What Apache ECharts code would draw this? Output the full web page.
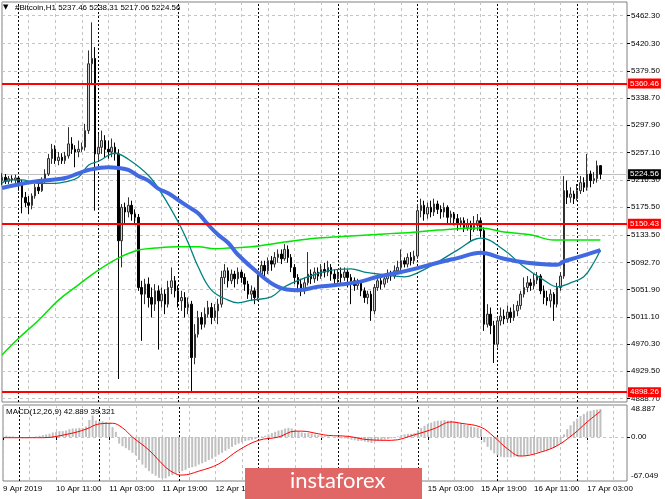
<!DOCTYPE html>
<html><head><meta charset="utf-8">
<script src="https://cdn.jsdelivr.net/npm/echarts@6/dist/echarts.min.js"></script>
<style>html,body{margin:0;padding:0;background:#fff}#c{width:665px;height:499px}</style>
</head><body><div id="c"></div>
<script>
// ---------- data ----------
const startTimeUTC = Date.UTC(2019, 3, 9, 19); // first visible H1 bar
const slotCount = 189;                         // bar slots across the chart
const monthNames = ['Jan','Feb','Mar','Apr','May','Jun','Jul','Aug','Sep','Oct','Nov','Dec'];
const titleText = '#Bitcoin,H1 5237.46 5238.31 5217.06 5224.56';
const macdTitle = 'MACD(12,26,9) 42.889 39.321';
// [open, close, low, high]
const candles = [
[5215,5220,5208,5226],[5220,5214,5210,5225],[5214,5218,5210,5222],[5218,5216,5212,5223],[5216,5219,5211,5224],
[5219,5212,5200,5222],[5212,5190,5166,5216],[5190,5182,5175,5198],[5182,5178,5165,5192],[5178,5192,5172,5196],
[5192,5205,5188,5210],[5205,5200,5195,5212],[5200,5215,5198,5220],[5215,5225,5210,5232],[5225,5248,5222,5255],
[5248,5262,5240,5270],[5262,5245,5240,5268],[5245,5250,5238,5258],[5250,5245,5240,5256],[5245,5252,5240,5258],
[5252,5270,5248,5295],[5270,5262,5255,5280],[5262,5258,5235,5268],[5258,5262,5250,5275],[5262,5265,5258,5272],
[5265,5290,5260,5300],[5290,5390,5285,5410],[5390,5398,5360,5452],[5398,5255,5170,5415],[5255,5265,5245,5285],
[5265,5275,5255,5290],[5275,5262,5250,5283],[5262,5258,5248,5275],[5258,5265,5250,5278],[5265,5255,5245,5272],
[5255,5125,4918,5262],[5125,5175,5085,5180],[5175,5168,5150,5182],[5168,5178,5160,5190],[5178,5165,5155,5185],
[5165,5160,5150,5172],[5160,5055,5050,5165],[5055,5045,4975,5065],[5045,5060,5030,5068],[5060,5040,5025,5070],
[5040,5030,5010,5055],[5030,5050,5020,5060],[5050,5035,4962,5058],[5035,5045,5025,5055],[5045,5030,5015,5052],
[5030,5055,5025,5065],[5055,5065,5045,5085],[5065,5050,5040,5072],[5050,5035,5025,5058],[5035,5040,5020,5050],
[5040,5025,5010,5048],[5025,5030,5015,5040],[5030,4950,4900,5035],[4950,4985,4940,5000],[4985,5010,4980,5020],
[5010,5000,4992,5018],[5000,5015,4995,5025],[5015,5025,5010,5035],[5025,5010,5000,5032],[5010,5020,5005,5030],
[5020,5030,5000,5038],[5030,5070,5025,5080],[5070,5080,5060,5090],[5080,5065,5055,5085],[5065,5075,5060,5082],
[5075,5068,5055,5080],[5068,5078,5060,5085],[5078,5070,5062,5082],[5070,5060,5050,5076],[5060,5045,5038,5065],
[5045,5050,5035,5058],[5050,5040,5030,5055],[5040,5075,5035,5080],[5075,5088,5070,5095],[5088,5080,5072,5095],
[5080,5095,5075,5100],[5095,5090,5080,5102],[5090,5100,5085,5108],[5100,5105,5092,5112],[5105,5098,5090,5112],
[5098,5112,5095,5120],[5112,5100,5092,5118],[5100,5085,5078,5105],[5085,5070,5060,5090],[5070,5060,5048,5075],
[5060,5050,5042,5068],[5050,5062,5045,5070],[5062,5075,5058,5108],[5075,5068,5060,5082],[5068,5078,5062,5085],
[5078,5072,5065,5085],[5072,5082,5068,5090],[5082,5078,5070,5092],[5078,5085,5072,5095],[5085,5075,5065,5090],
[5075,5068,5060,5082],[5068,5075,5062,5082],[5075,5070,5062,5085],[5070,5078,5065,5085],[5078,5070,5055,5082],
[5070,5065,5030,5075],[5065,5058,5050,5070],[5058,5062,5052,5068],[5062,5050,5042,5066],[5050,5040,5032,5055],
[5040,5045,5030,5050],[5045,5020,5005,5050],[5020,5055,5015,5060],[5055,5065,5050,5072],[5065,5060,5052,5070],
[5060,5068,5055,5075],[5068,5075,5062,5082],[5075,5072,5065,5080],[5072,5080,5068,5088],[5080,5085,5075,5095],
[5085,5095,5080,5112],[5095,5090,5085,5100],[5090,5100,5085,5106],[5100,5095,5088,5108],[5095,5102,5090,5110],
[5102,5170,5098,5180],[5170,5178,5160,5188],[5178,5165,5155,5185],[5165,5175,5158,5182],[5175,5168,5160,5185],
[5168,5180,5162,5188],[5180,5172,5165,5185],[5172,5168,5158,5178],[5168,5175,5160,5182],[5175,5160,5150,5178],
[5160,5165,5150,5170],[5165,5158,5148,5168],[5158,5150,5140,5165],[5150,5155,5145,5160],[5155,5145,5138,5160],
[5145,5150,5140,5158],[5150,5142,5125,5155],[5142,5148,5138,5162],[5148,5155,5140,5165],[5155,5140,5130,5160],
[5140,5000,4990,5145],[5000,5015,4995,5030],[5015,4998,4985,5025],[4998,4970,4942,5005],[4970,5005,4965,5012],
[5005,5012,4998,5025],[5012,5008,5000,5022],[5008,5018,5002,5028],[5018,5010,5002,5025],[5010,5020,5005,5030],
[5020,5028,5012,5035],[5028,5045,5022,5050],[5045,5055,5040,5070],[5055,5062,5048,5072],[5062,5058,5050,5068],
[5058,5066,5052,5075],[5066,5072,5060,5078],[5072,5050,5045,5075],[5050,5040,5030,5058],[5040,5035,5028,5050],
[5035,5045,5025,5052],[5045,5030,5005,5048],[5030,5055,5025,5062],[5055,5072,5050,5078],[5072,5200,5068,5222],
[5200,5190,5180,5215],[5190,5195,5182,5205],[5195,5188,5180,5200],[5188,5200,5185,5210],[5200,5212,5195,5222],
[5212,5205,5198,5220],[5205,5225,5200,5255],[5225,5215,5205,5230],[5215,5218,5210,5228],[5218,5237.46,5212,5245],
[5237.46,5224.56,5217.06,5238.31]
];
// moving averages read at bar indices: [barIndex, price]
const tealMA = [[0,5211],[2,5216],[6,5216],[9,5213],[11,5211],[16,5211],[19,5213],[23,5220],[26,5238],[29,5244],[34,5256],[38,5247],[44,5223],[48,5196],[53,5153],[56,5122],[59,5086],[63,5051],[68,5036],[71,5032],[75,5036],[81,5041],[85,5056],[91,5069],[98,5080],[105,5083],[109,5078],[115,5074],[121,5071],[125,5077],[131,5093],[137,5111],[144,5129],[151,5111],[157,5086],[163,5066],[167,5056],[171,5062],[175,5071],[178,5092],[180,5111]];
const blueMA = [[0,5204],[9,5213],[19,5219],[23,5226],[26,5231],[32,5235],[35,5234],[38,5231],[41,5222],[44,5215],[47,5203],[50,5196],[53,5186],[56,5176],[59,5166],[62,5149],[65,5134],[68,5122],[71,5104],[77,5077],[83,5056],[89,5051],[95,5056],[101,5059],[107,5063],[113,5071],[119,5077],[125,5084],[131,5092],[137,5099],[144,5107],[151,5098],[158,5092],[167,5089],[169,5094],[173,5100],[180,5111]];
const greenMA = [[0,4954],[5,4979],[11,5006],[17,5036],[23,5059],[29,5081],[35,5099],[41,5111],[46,5114],[53,5116],[59,5116],[64,5113],[68,5114],[75,5116],[85,5123],[95,5129],[105,5132],[115,5135],[125,5138],[131,5141],[144,5144],[151,5138],[159,5134],[166,5126],[171,5126],[180,5126]];
// MACD main (histogram), one per bar
const macdHist = [2,2,1,1,0,-1,-2,-2,-1,0,1,2, 3,4,5,7,8,9,9,10, 12,13,13,14,14,16, 26,33, 25,24,24,23,22, 15,8, -10,
 -14,-17,-20,-24,-28,-35, -42,-47,-52,-56,-59,-62,-63,-63,-60, -58,-56,-54,-52,-50,-47, -46,-45,-42,-40,-38,-35,-33,-30,
 -27,-24,-21,-18,-15,-12,-10,-8, -6,-5,-4,-3,-1,1,2, 4,6,8,10,11,13,14,13, 11,9,7,6,6,5,4,3, 2,2,1, 0,-1,-1,-2,-2,
 -3,-4,-5,-6,-6,-7,-8,-9, -7,-6,-5,-4,-3,-2,-1, 1,3,4,5,5,6, 10,14,17, 20,22,24,25,25, 26,25,25,24,
 22,21,19,18,16,15,14,12, -8, -15,-20,-25,-28,-30, -31,-31,-31,-30,-30,-29,-28,-27,
 -26,-25,-23,-22,-21,-20,-18,-17,-14,-10, 4, 12,18,24,28,32, 35,38,40,41,42,42.889];
// MACD signal read at bar indices
const macdSignal = [[0,-1],[12,-1],[20,5],[25,12],[29,20],[33,21],[36,14],[39,0],[44,-20],[49,-46],[52,-56],[54,-58],[59,-52],[65,-41],[71,-20],[77,-5],[83,0],[88,9],[90,9],[95,5],[98,2.5],[104,1],[110,-4],[117,-5],[124,3.5],[130,13],[135,23],[138,21],[144,15],[148,0],[152,-18],[156,-29],[162,-23],[167,-13],[172,5],[176,23],[180,39.321]];
const priceTicks = [5462.30,5420.30,5379.50,5338.70,5297.90,5257.10,5216.30,5175.50,5133.50,5092.70,5051.90,5011.10,4970.30,4929.50,4888.70];
const levelLines = [5360.46, 5150.43, 4898.26];
const lastPrice = 5224.56;
const macdTicks = [48.887, 0, -67.049];
const priceRange = [4883.5, 5482.5];
const macdRange = [-67.049, 48.887];

// ---------- build ----------
const FONT = 'Liberation Sans';
const cats = [];
const hours = [];
for (let i = 0; i < slotCount; i++) {
  const d = new Date(startTimeUTC + i * 3600000);
  hours.push(d.getUTCHours());
  const hh = String(d.getUTCHours()).padStart(2, '0');
  cats.push(i === 0 ? d.getUTCDate() + ' ' + monthNames[d.getUTCMonth()] + ' ' + d.getUTCFullYear()
                    : d.getUTCDate() + ' ' + monthNames[d.getUTCMonth()] + ' ' + hh + ':00');
}
const daySeps = [];
hours.forEach((h, i) => { if (h === 0) daySeps.push(i); });

const gridLine = { color: '#c4c4c4', type: [3, 3], width: 1 };
const sepLine = { color: '#000', type: [2, 2], width: 1 };

const chart = echarts.init(document.getElementById('c'), null, { renderer: 'canvas' });
chart.setOption({
  animation: false,
  backgroundColor: '#fff',
  grid: [
    { left: 2, top: 2, width: 625, height: 400, show: true, borderColor: '#808080', borderWidth: 1 },
    { left: 2, top: 405, width: 625, height: 76, show: true, borderColor: '#808080', borderWidth: 1 }
  ],
  xAxis: [
    { type: 'category', gridIndex: 0, data: cats, boundaryGap: false,
      axisLine: { show: false }, axisTick: { show: false }, axisLabel: { show: false },
      splitLine: { show: true, interval: 7, lineStyle: gridLine } },
    { type: 'category', gridIndex: 1, data: cats, boundaryGap: false,
      axisLine: { show: false },
      axisTick: { show: true, interval: 15, length: 3, lineStyle: { color: '#000' } },
      axisLabel: { interval: 15, align: 'left', fontSize: 8, fontFamily: FONT, color: '#000', margin: 4 },
      splitLine: { show: true, interval: 7, lineStyle: gridLine } }
  ],
  yAxis: [
    { type: 'value', gridIndex: 0, position: 'right', min: priceRange[0], max: priceRange[1],
      splitLine: { show: false }, axisLine: { show: false },
      axisTick: { show: true, customValues: priceTicks, length: 3, lineStyle: { color: '#000' } },
      axisLabel: { customValues: priceTicks, formatter: v => v.toFixed(2), fontSize: 8, fontFamily: FONT, color: '#000', margin: 4 } },
    { type: 'value', gridIndex: 1, position: 'right', min: macdRange[0], max: macdRange[1],
      splitLine: { show: false }, axisLine: { show: false },
      axisTick: { show: true, customValues: [0], length: 3, lineStyle: { color: '#000' } },
      axisLabel: { customValues: macdTicks, fontSize: 8, fontFamily: FONT, color: '#000', margin: 4,
        formatter: v => v === 0 ? '{m|0.00}' : (v > 0 ? '{t|' + v.toFixed(3) + '}' : '{b|' + v.toFixed(3) + '}'),
        rich: { m: { fontSize: 8, fontFamily: FONT }, t: { fontSize: 8, fontFamily: FONT, padding: [8, 0, 0, 0] }, b: { fontSize: 8, fontFamily: FONT, padding: [0, 0, 10, 0] } } } }
  ],
  graphic: [
    { type: 'text', left: 3, top: 4, style: { text: '▼', fontSize: 7, fill: '#000', fontFamily: 'DejaVu Sans' }, z: 50 },
    { type: 'text', left: 15, top: 4, style: { text: titleText, fontSize: 8, fill: '#000', fontFamily: FONT }, z: 50 },
    { type: 'text', left: 6, top: 408, style: { text: macdTitle, fontSize: 8, fill: '#000', fontFamily: FONT }, z: 50 },
    { type: 'rect', shape: { x: 245, y: 468, width: 177, height: 31 }, style: { fill: '#e16767' }, z: 60 },
    { type: 'text', left: 290, top: 470, style: { text: 'instaforex', fontSize: 22, fill: '#fff', fontFamily: 'Lato' }, z: 61 }
  ],
  series: [
    { type: 'line', xAxisIndex: 0, yAxisIndex: 0, data: [], silent: true,
      markLine: { silent: true, symbol: 'none', z: 1, animation: false, label: { show: false }, lineStyle: gridLine,
        data: priceTicks.map(v => ({ yAxis: v }))
          .concat(daySeps.map(i => ({ xAxis: cats[i], lineStyle: sepLine })))
          .concat([{ yAxis: lastPrice, lineStyle: { color: '#c0c0c0', type: 'solid', width: 1 },
            label: { show: true, position: 'end', distance: 1, formatter: lastPrice.toFixed(2), color: '#fff', backgroundColor: '#000', fontSize: 8, fontFamily: FONT, padding: [1, 2, 1, 2] } }]) } },
    { type: 'line', xAxisIndex: 1, yAxisIndex: 1, data: [], silent: true,
      markLine: { silent: true, symbol: 'none', z: 1, animation: false, label: { show: false }, lineStyle: gridLine,
        data: [{ yAxis: 0 }].concat(daySeps.map(i => ({ xAxis: cats[i], lineStyle: sepLine }))) } },
    { name: 'price', type: 'candlestick', xAxisIndex: 0, yAxisIndex: 0, data: candles, barWidth: 2, z: 3,
      itemStyle: { color: '#d0d0d0', color0: '#000', borderColor: '#303030', borderColor0: '#000', borderWidth: 1 } },
    { type: 'line', xAxisIndex: 0, yAxisIndex: 0, data: greenMA, smooth: 0.4, showSymbol: false, z: 4,
      lineStyle: { color: '#00e600', width: 1.5 } },
    { type: 'line', xAxisIndex: 0, yAxisIndex: 0, data: tealMA, smooth: 0.4, showSymbol: false, z: 4,
      lineStyle: { color: '#008080', width: 1.3 } },
    { type: 'line', xAxisIndex: 0, yAxisIndex: 0, data: blueMA, smooth: 0.4, showSymbol: false, z: 5,
      lineStyle: { color: '#4169e1', width: 4 } },
    { type: 'line', xAxisIndex: 0, yAxisIndex: 0, data: [], silent: true, z: 6,
      markLine: { silent: true, symbol: 'none', z: 6, animation: false,
        lineStyle: { color: '#ff0000', type: 'solid', width: 2 },
        label: { show: true, position: 'end', distance: 1, color: '#fff', backgroundColor: '#ff0000', fontSize: 8, fontFamily: FONT, padding: [1, 2, 1, 2], formatter: p => p.value.toFixed(2) },
        data: levelLines.map(v => ({ yAxis: v })) } },
    { type: 'bar', xAxisIndex: 1, yAxisIndex: 1, data: macdHist, barWidth: 2, z: 3,
      itemStyle: { color: '#c0c0c0' } },
    { type: 'line', xAxisIndex: 1, yAxisIndex: 1, data: macdSignal, smooth: 0.4, showSymbol: false, z: 4,
      lineStyle: { color: '#ff0000', width: 1 } }
  ]
});
</script>
</body></html>
